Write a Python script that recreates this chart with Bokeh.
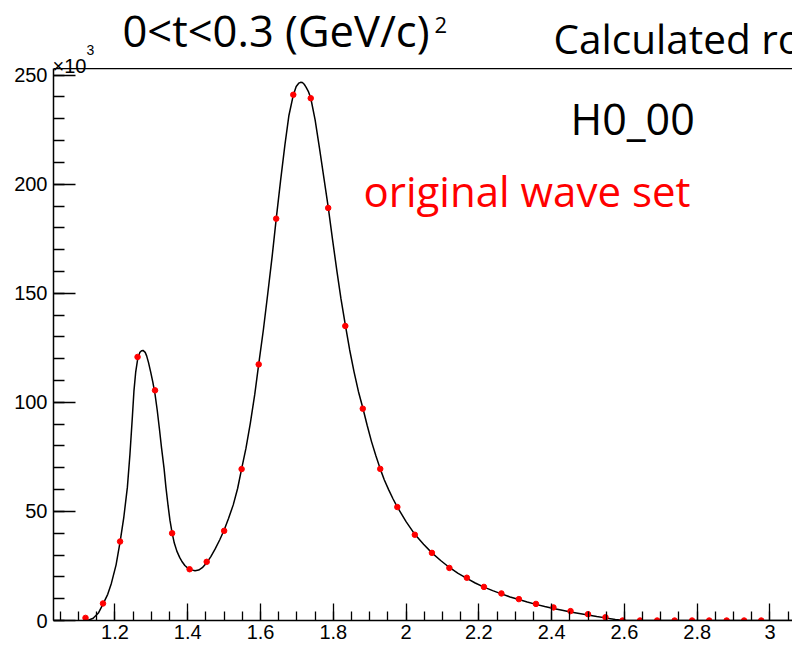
import numpy as np
from bokeh.plotting import figure
from bokeh.models import Label, LinearAxis, FixedTicker, Range1d, Span
from bokeh.embed import file_html
from bokeh.resources import INLINE

# ---- data (intensity in units of 10^3) ----
mass = [1.119, 1.167, 1.214, 1.262, 1.310, 1.357, 1.405, 1.452, 1.500, 1.548,
        1.595, 1.643, 1.690, 1.738, 1.786, 1.833, 1.881, 1.929, 1.976, 2.024,
        2.071, 2.119, 2.167, 2.214, 2.262, 2.310, 2.357, 2.405, 2.452, 2.500,
        2.548, 2.595, 2.643, 2.690, 2.738, 2.786, 2.833, 2.881, 2.929, 2.976]
intensity = [1.2, 7.8, 36.2, 120.8, 105.5, 40.0, 23.5, 26.9, 41.1, 69.4,
             117.4, 184.2, 241.0, 239.4, 189.1, 135.0, 97.1, 69.5, 52.0, 39.3,
             31.0, 24.1, 19.6, 15.4, 12.4, 9.8, 7.6, 6.0, 4.3, 2.9,
             1.5, 0.0, 0.0, 0.0, 0.0, 0.0, 0.0, 0.0, 0.0, 0.0]

# fitted curve
curve_x = [1.125, 1.140, 1.155, 1.167, 1.180, 1.190, 1.203, 1.214, 1.224, 1.234,
           1.241, 1.248, 1.252, 1.257, 1.262, 1.268, 1.273, 1.277, 1.283, 1.287,
           1.292, 1.298, 1.304, 1.310, 1.316, 1.322, 1.328, 1.335, 1.340, 1.346,
           1.351, 1.357, 1.363, 1.370, 1.378, 1.385, 1.392, 1.400, 1.410, 1.420,
           1.430, 1.440, 1.452, 1.463, 1.475, 1.488, 1.500, 1.512, 1.525, 1.537,
           1.548, 1.560, 1.572, 1.584, 1.595, 1.608, 1.620, 1.632, 1.643, 1.655,
           1.667, 1.678, 1.690, 1.698, 1.705, 1.710, 1.715, 1.720, 1.725, 1.732,
           1.738, 1.750, 1.762, 1.774, 1.786, 1.798, 1.810, 1.821, 1.833, 1.845,
           1.857, 1.869, 1.881, 1.893, 1.905, 1.917, 1.929, 1.940, 1.952, 1.964,
           1.976, 2.000, 2.024, 2.048, 2.071, 2.095, 2.119, 2.143, 2.167, 2.190,
           2.214, 2.238, 2.262, 2.286, 2.310, 2.333, 2.357, 2.381, 2.405, 2.429,
           2.452, 2.476, 2.500, 2.524, 2.548, 2.575, 2.600, 3.062]
curve_y = [0.0, 1.0, 3.6, 7.5, 12.0, 17.0, 25.5, 36.0, 47.0, 61.0,
           76.0, 94.0, 105.0, 114.0, 119.5, 122.8, 123.7, 123.8, 122.9, 121.3,
           118.3, 114.0, 109.3, 103.8, 96.5, 88.0, 79.0, 69.5, 61.0, 52.5,
           46.0, 40.2, 35.5, 31.8, 28.8, 26.8, 25.2, 24.0, 23.2, 22.8,
           23.1, 24.2, 26.5, 29.2, 32.7, 37.0, 41.5, 46.8, 53.0, 60.5,
           69.5, 79.0, 90.5, 103.5, 117.5, 133.5, 150.0, 167.0, 184.0, 201.5,
           218.0, 231.5, 240.8, 244.8, 246.3, 246.7, 246.6, 245.8, 244.5, 242.3,
           239.5, 229.5, 216.5, 203.0, 189.5, 174.5, 160.0, 147.5, 135.5, 124.0,
           114.0, 105.0, 97.5, 89.5, 82.0, 75.5, 69.5, 64.5, 60.0, 55.8,
           52.0, 45.3, 39.5, 35.0, 31.0, 27.5, 24.3, 21.6, 19.3, 17.2,
           15.3, 13.7, 12.2, 10.8, 9.6, 8.5, 7.4, 6.4, 5.5, 4.7,
           3.9, 3.2, 2.5, 1.8, 1.2, 0.5, 0.0, 0.0]

x_ticks = [1.2, 1.4, 1.6, 1.8, 2.0, 2.2, 2.4, 2.6, 2.8, 3.0]
x_tick_labels = ["1.2", "1.4", "1.6", "1.8", "2", "2.2", "2.4", "2.6", "2.8", "3"]
y_ticks = [0, 50, 100, 150, 200, 250]
y_tick_labels = ["0", "50", "100", "150", "200", "250"]

title_text = "0<t<0.3 (GeV/c)"
title_sup = "2"
right_title = "Calculated ro"
wave_name = "H0_00"
wave_set = "original wave set"

X0, X1 = 1.031, 3.062
Y_FRAME_TOP = 253.0          # value at the drawn top border of the pad
Y_CANVAS_TOP = 284.2         # value at the very top of the picture

p = figure(width=792, height=646, output_backend="svg", toolbar_location=None,
           x_range=Range1d(X0, X1), y_range=Range1d(0.0, Y_CANVAS_TOP),
           x_axis_location=None, y_axis_location=None,
           min_border_left=53, min_border_right=0, min_border_top=0,
           min_border_bottom=26)
p.outline_line_color = None
p.xgrid.grid_line_color = None
p.ygrid.grid_line_color = None
p.background_fill_color = "white"
p.border_fill_color = "white"

axis_font = "Liberation Sans"

xminor = [round(v, 3) for v in np.arange(1.05, 3.06, 0.05)]
xaxis = LinearAxis(ticker=FixedTicker(ticks=x_ticks, minor_ticks=xminor),
                   major_label_overrides={t: l for t, l in zip(x_ticks, x_tick_labels)})
yminor = [float(v) for v in np.arange(0, 251, 10)]
yaxis = LinearAxis(ticker=FixedTicker(ticks=y_ticks, minor_ticks=yminor),
                   major_label_overrides={t: l for t, l in zip(y_ticks, y_tick_labels)},
                   bounds=(0.0, Y_FRAME_TOP))

for ax in (xaxis, yaxis):
    ax.axis_line_color = "black"
    ax.axis_line_width = 1.5
    ax.major_tick_line_color = "black"
    ax.minor_tick_line_color = "black"
    ax.major_tick_line_width = 1.3
    ax.minor_tick_line_width = 1.3
    ax.major_tick_out = 0
    ax.minor_tick_out = 0
    ax.major_label_text_font = axis_font
    ax.major_label_text_font_size = "20px"
    ax.major_label_text_color = "black"

xaxis.major_tick_in = 17
xaxis.minor_tick_in = 9
xaxis.major_label_standoff = 4
yaxis.major_tick_in = 22
yaxis.minor_tick_in = 11
yaxis.major_label_standoff = 6

p.add_layout(xaxis, "below")
p.add_layout(yaxis, "left")

# top border of the pad
p.add_layout(Span(location=Y_FRAME_TOP, dimension="width", line_color="black", line_width=1.2))

p.line(curve_x, curve_y, line_color="black", line_width=1.5)
p.scatter(mass, intensity, size=5.5, fill_color="red", line_color="red", marker="circle")

big = "Open Sans"

def canvas_label(x, baseline, text, font, size_px, color="black"):
    # the renderer places the alphabetic baseline ~0.39 em lower than asked
    p.add_layout(Label(x=x, y=baseline - 0.39 * size_px, x_units="canvas", y_units="canvas",
                       text=text, text_font=font, text_font_size=f"{size_px}px",
                       text_color=color, text_baseline="alphabetic"))

canvas_label(122, 47, title_text, big, 43.5)
canvas_label(434, 33, title_sup, big, 22)
canvas_label(553, 54, right_title, big, 40.5)
canvas_label(570, 135, wave_name, big, 43)
canvas_label(363, 206, wave_set, big, 42, "red")
canvas_label(52, 73, "\u00d710", axis_font, 20)
canvas_label(86, 55, "3", axis_font, 14)

open("out.html", "w").write(file_html(p, INLINE))
